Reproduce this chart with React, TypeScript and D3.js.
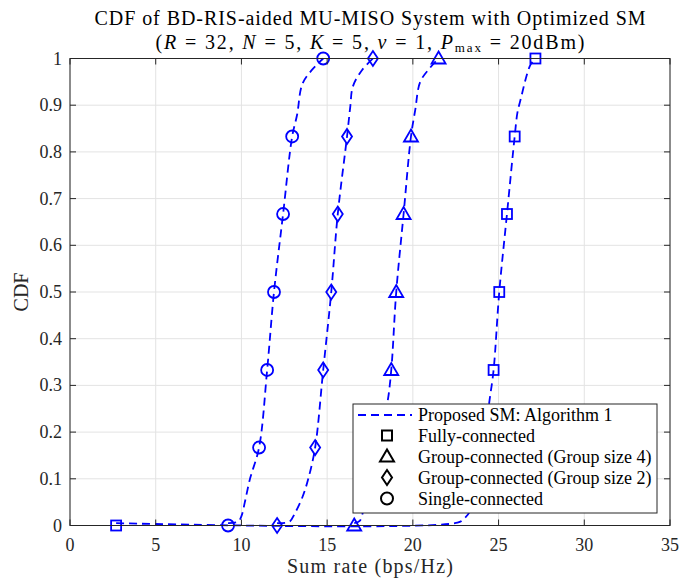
import { useEffect } from 'react'
import * as d3 from 'd3'

// CDF of sum rate for 4 BD-RIS architectures (MATLAB-style figure)
const W = 697
const H = 579
const M = { left: 70, right: 27, top: 58.5, bottom: 53.5 }
const PW = W - M.left - M.right
const PH = H - M.top - M.bottom

const BLUE = '#0000ff'
const AXIS = '#262626'
const GRID = '#e3e3e3'
const FONT = '"Liberation Serif", "DejaVu Serif", serif'

const X_TICKS = [0, 5, 10, 15, 20, 25, 30, 35]
const Y_TICKS = [0, 0.1, 0.2, 0.3, 0.4, 0.5, 0.6, 0.7, 0.8, 0.9, 1]
const Y_TICK_LABELS = ['0', '0.1', '0.2', '0.3', '0.4', '0.5', '0.6', '0.7', '0.8', '0.9', '1']

// CDF levels where markers sit
const MARKER_LEVELS = [0, 0.167, 0.333, 0.5, 0.667, 0.833, 1]

// sum rate at each marker level
const fullyMarkers = [2.69, 24.1, 24.71, 25.04, 25.49, 25.94, 27.15]
const group4Markers = [16.58, 17.9, 18.74, 19.03, 19.46, 19.89, 21.5]
const group2Markers = [12.08, 14.3, 14.77, 15.24, 15.62, 16.16, 17.67]
const singleMarkers = [9.22, 11.03, 11.5, 11.9, 12.43, 12.96, 14.77]

// dashed empirical CDF curves, [rate, cdf]
const fullyCurve: [number, number][] = [
  [2.69, 0.005], [22.6, 0.006], [23.0, 0.015], [23.4, 0.035], [23.8, 0.1], [24.1, 0.167],
  [24.48, 0.27], [24.71, 0.333], [25.04, 0.5], [25.49, 0.667], [25.94, 0.833],
  [26.1, 0.884], [26.27, 0.91], [26.85, 0.986], [27.15, 1],
]
const group4Curve: [number, number][] = [
  [16.58, 0.005], [16.9, 0.01], [17.1, 0.03], [17.5, 0.08], [17.9, 0.167],
  [18.5, 0.26], [18.74, 0.333], [19.03, 0.5], [19.46, 0.667], [19.89, 0.833],
  [20.14, 0.89], [20.43, 0.95], [21.0, 0.98], [21.5, 1],
]
const group2Curve: [number, number][] = [
  [12.08, 0.005], [12.8, 0.008], [13.1, 0.025], [13.55, 0.06], [13.9, 0.1], [14.3, 0.167],
  [14.77, 0.333], [15.24, 0.5], [15.62, 0.667], [16.16, 0.833],
  [16.35, 0.897], [16.5, 0.94], [17.03, 0.975], [17.67, 1],
]
const singleCurve: [number, number][] = [
  [9.22, 0.005], [9.8, 0.008], [10.0, 0.02], [10.2, 0.05], [10.5, 0.1], [11.03, 0.167],
  [11.5, 0.333], [11.9, 0.5], [12.43, 0.667], [12.96, 0.833],
  [13.25, 0.88], [13.55, 0.945], [14.1, 0.975], [14.77, 1],
]

const SERIES = [
  { name: 'Fully-connected', shape: 'square', curve: fullyCurve, markers: fullyMarkers },
  { name: 'Group-connected (Group size 4)', shape: 'triangle', curve: group4Curve, markers: group4Markers },
  { name: 'Group-connected (Group size 2)', shape: 'diamond', curve: group2Curve, markers: group2Markers },
  { name: 'Single-connected', shape: 'circle', curve: singleCurve, markers: singleMarkers },
]

const x = d3.scaleLinear().domain([0, 35]).range([0, PW])
const y = d3.scaleLinear().domain([0, 1]).range([PH, 0])

const line = d3.line<[number, number]>()
  .x((d) => x(d[0]))
  .y((d) => y(d[1]))
  .curve(d3.curveCatmullRom.alpha(0.5))

function Marker({ shape, cx, cy, color, sw }: { shape: string; cx: number; cy: number; color: string; sw: number }) {
  const common = { fill: 'none', stroke: color, strokeWidth: sw }
  if (shape === 'square') return <rect x={cx - 5} y={cy - 5} width={10} height={10} {...common} />
  if (shape === 'circle') return <circle cx={cx} cy={cy} r={6} {...common} />
  if (shape === 'triangle') {
    return <path d={`M${cx},${cy - 7}L${cx + 7},${cy + 5}L${cx - 7},${cy + 5}Z`} {...common} strokeLinejoin="miter" />
  }
  return <path d={`M${cx},${cy - 7.5}L${cx + 5},${cy}L${cx},${cy + 7.5}L${cx - 5},${cy}Z`} {...common} />
}

export default function App() {
  useEffect(() => {
    document.body.style.margin = '0'
  }, [])

  const legendX = 353 - M.left
  const legendY = 404 - M.top

  return (
    <svg width={W} height={H} style={{ display: 'block', background: '#fff' }} fontFamily={FONT}>
      {/* title */}
      <text x={M.left + PW / 2} y={25} textAnchor="middle" fontSize={20} fill="#000" textLength={551} lengthAdjust="spacing">
        CDF of BD-RIS-aided MU-MISO System with Optimized SM
      </text>
      <text x={M.left + PW / 2} y={49} textAnchor="middle" fontSize={20} fill="#000" textLength={429} lengthAdjust="spacing">
        (<tspan fontStyle="italic">R</tspan> = 32,  <tspan fontStyle="italic">N</tspan> = 5,  <tspan fontStyle="italic">K</tspan> = 5,  <tspan fontStyle="italic">ν</tspan> = 1,  <tspan fontStyle="italic">P</tspan><tspan fontSize={13} dy={3}>max</tspan><tspan dy={-3}> = 20dBm)</tspan>
      </text>

      <g transform={`translate(${M.left},${M.top})`}>
        {/* grid */}
        {X_TICKS.map((t) => (
          <line key={'gx' + t} x1={x(t)} x2={x(t)} y1={0} y2={PH} stroke={GRID} strokeWidth={1} />
        ))}
        {Y_TICKS.map((t) => (
          <line key={'gy' + t} x1={0} x2={PW} y1={y(t)} y2={y(t)} stroke={GRID} strokeWidth={1} />
        ))}

        {/* curves */}
        {SERIES.map((s) => (
          <path key={'c' + s.name} d={line(s.curve) || ''} fill="none" stroke={BLUE} strokeWidth={1.8} strokeDasharray="8,5" />
        ))}

        {/* markers */}
        {SERIES.map((s) =>
          s.markers.map((v, i) => (
            <Marker key={s.name + i} shape={s.shape} cx={x(v)} cy={y(MARKER_LEVELS[i])} color={BLUE} sw={1.8} />
          ))
        )}

        {/* axes box + ticks */}
        <rect x={0} y={0} width={PW} height={PH} fill="none" stroke={AXIS} strokeWidth={1} />
        {X_TICKS.map((t) => (
          <g key={'tx' + t}>
            <line x1={x(t)} x2={x(t)} y1={PH} y2={PH - 6} stroke={AXIS} />
            <line x1={x(t)} x2={x(t)} y1={0} y2={6} stroke={AXIS} />
            <text x={x(t)} y={PH + 25} textAnchor="middle" fontSize={18} fill={AXIS}>{t}</text>
          </g>
        ))}
        {Y_TICKS.map((t, i) => (
          <g key={'ty' + t}>
            <line x1={0} x2={6} y1={y(t)} y2={y(t)} stroke={AXIS} />
            <line x1={PW} x2={PW - 6} y1={y(t)} y2={y(t)} stroke={AXIS} />
            <text x={-8} y={y(t) + 6} textAnchor="end" fontSize={18} fill={AXIS}>{Y_TICK_LABELS[i]}</text>
          </g>
        ))}

        {/* axis labels */}
        <text x={PW / 2} y={PH + 47} textAnchor="middle" fontSize={20} fill={AXIS} textLength={166} lengthAdjust="spacing">Sum rate (bps/Hz)</text>
        <text transform={`translate(${-42},${PH / 2}) rotate(-90)`} textAnchor="middle" fontSize={20} fill={AXIS}>CDF</text>

        {/* legend */}
        <g transform={`translate(${legendX},${legendY})`}>
          <rect x={0} y={0} width={304} height={109} fill="#fff" stroke={AXIS} strokeWidth={1} />
          <line x1={5} x2={59} y1={11} y2={11} stroke={BLUE} strokeWidth={1.8} strokeDasharray="8,5" />
          <text x={65} y={17} fontSize={18} fill="#000">Proposed SM: Algorithm 1</text>
          {SERIES.map((s, i) => (
            <g key={'lg' + s.name}>
              <Marker shape={s.shape} cx={34} cy={31.5 + i * 21} color="#000" sw={2} />
              <text x={65} y={38 + i * 21} fontSize={18} fill="#000">{s.name}</text>
            </g>
          ))}
        </g>
      </g>
    </svg>
  )
}
